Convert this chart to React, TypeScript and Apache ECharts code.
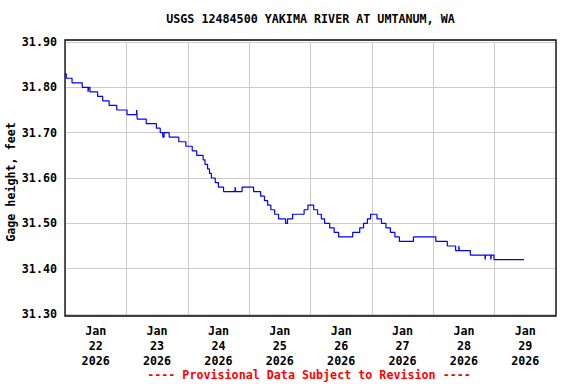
import React, { useEffect, useRef } from "react";
import * as echarts from "echarts";

const titleText = "USGS 12484500 YAKIMA RIVER AT UMTANUM, WA";
const yAxisName = "Gage height, feet";
const footerText = "---- Provisional Data Subject to Revision ----";
const startDay = 22; // Jan 22 2026 00:00 is the left edge
const dayCount = 8;

const times: string[] = [
  "01-22 00:00", "01-22 00:30", "01-22 02:45", "01-22 06:45", "01-22 09:00", "01-22 09:15",
  "01-22 09:45", "01-22 12:45", "01-22 14:45", "01-22 17:15", "01-22 20:15", "01-23 00:15",
  "01-23 04:00", "01-23 04:15", "01-23 07:45", "01-23 11:45", "01-23 13:15", "01-23 14:15",
  "01-23 14:45", "01-23 16:45", "01-23 20:30", "01-23 23:15", "01-24 01:45", "01-24 03:30",
  "01-24 06:00", "01-24 06:45", "01-24 07:45", "01-24 08:30", "01-24 09:15", "01-24 10:45",
  "01-24 12:00", "01-24 14:00", "01-24 18:30", "01-24 18:45", "01-24 21:15", "01-25 01:45",
  "01-25 04:30", "01-25 06:00", "01-25 07:15", "01-25 08:30", "01-25 10:00", "01-25 11:30",
  "01-25 14:15", "01-25 15:00", "01-25 17:00", "01-25 21:30", "01-25 23:00", "01-26 01:15",
  "01-26 02:45", "01-26 04:15", "01-26 05:30", "01-26 07:30", "01-26 09:15", "01-26 11:00",
  "01-26 16:30", "01-26 19:15", "01-26 20:45", "01-26 22:15", "01-26 23:30", "01-27 02:00",
  "01-27 03:45", "01-27 05:30", "01-27 07:15", "01-27 09:00", "01-27 10:45", "01-27 16:15",
  "01-28 01:00", "01-28 05:30", "01-28 08:45", "01-28 10:00", "01-28 10:15", "01-28 14:30",
  "01-28 20:15", "01-28 20:30", "01-28 22:30", "01-28 22:45", "01-28 23:45", "01-29 11:30",
];

const gageHeight: number[] = [
  31.83, 31.82, 31.81, 31.80, 31.79, 31.80,
  31.79, 31.78, 31.77, 31.76, 31.75, 31.74,
  31.75, 31.73, 31.72, 31.71, 31.70, 31.69,
  31.70, 31.69, 31.68, 31.67, 31.66, 31.65,
  31.64, 31.63, 31.62, 31.61, 31.60, 31.59,
  31.58, 31.57, 31.58, 31.57, 31.58, 31.57,
  31.56, 31.55, 31.54, 31.53, 31.52, 31.51,
  31.50, 31.51, 31.52, 31.53, 31.54, 31.53,
  31.52, 31.51, 31.50, 31.49, 31.48, 31.47,
  31.48, 31.49, 31.50, 31.51, 31.52, 31.51,
  31.50, 31.49, 31.48, 31.47, 31.46, 31.47,
  31.46, 31.45, 31.44, 31.45, 31.44, 31.43,
  31.42, 31.43, 31.42, 31.43, 31.42, 31.42,
];

const yMin = 31.3;
const yMax = 31.9;
const yStep = 0.1;

function toHours(t: string): number {
  const [md, hm] = t.split(" ");
  const day = parseInt(md.split("-")[1], 10);
  const [h, m] = hm.split(":").map((s) => parseInt(s, 10));
  return (day - startDay) * 24 + h + m / 60;
}

const FONT = "'DejaVu Sans Mono', monospace";
const FS = 11.7;

export default function App() {
  const ref = useRef<HTMLDivElement>(null);
  useEffect(() => {
    if (!ref.current) return;
    const chart = echarts.init(ref.current, null, { renderer: "svg" });
    const data = times.map((t, i) => [toHours(t), gageHeight[i]]);
    const L = 65, R = 20, T = 42, B = 70;
    chart.setOption({
      animation: false,
      backgroundColor: "#ffffff",
      grid: { left: L, right: R, top: T, bottom: B, containLabel: false },
      xAxis: [
        {
          type: "value",
          min: 0,
          max: dayCount * 24,
          interval: 24,
          axisLine: { show: false },
          axisTick: { show: false },
          axisLabel: { show: false },
          splitLine: { show: true, lineStyle: { color: "#cccccc", width: 1 } },
        },
        {
          type: "value",
          position: "bottom",
          min: 0,
          max: dayCount * 24,
          interval: 12,
          axisLine: { show: false },
          axisTick: { show: false },
          splitLine: { show: false },
          axisLabel: {
            show: true,
            margin: 9,
            showMinLabel: false,
            showMaxLabel: false,
            fontFamily: FONT,
            fontWeight: "bold",
            fontSize: FS,
            lineHeight: 15,
            color: "#000",
            formatter: (v: number) => {
              if (Math.round(v) % 24 !== 12) return "";
              const d = startDay + Math.floor(v / 24);
              return `Jan\n${d}\n2026`;
            },
          },
        },
      ],
      yAxis: {
        type: "value",
        min: yMin,
        max: yMax,
        interval: yStep,
        axisLine: { show: false },
        axisTick: { show: false },
        splitLine: { show: true, lineStyle: { color: "#cccccc", width: 1 } },
        axisLabel: {
          margin: 8,
          fontFamily: FONT,
          fontWeight: "bold",
          fontSize: FS,
          color: "#000",
          formatter: (v: number) => v.toFixed(2),
        },
      },
      series: [
        {
          type: "line",
          xAxisIndex: 0,
          step: "end",
          showSymbol: false,
          symbol: "none",
          data,
          lineStyle: { color: "#0000ff", width: 1.2 },
        },
      ],
      graphic: [
        {
          type: "rect",
          shape: { x: L, y: 40, width: 576 - L - R, height: 276 },
          style: { fill: "none", stroke: "#000", lineWidth: 1.3 },
          z: 100,
          silent: true,
        },
        {
          type: "text",
          x: 310.5,
          y: 19,
          style: {
            text: titleText,
            font: `bold ${FS}px ${FONT}`,
            fill: "#000",
            align: "center",
            verticalAlign: "middle",
          },
        },
        {
          type: "text",
          x: 11,
          y: 182,
          rotation: Math.PI / 2,
          style: {
            text: yAxisName,
            font: `bold ${FS}px ${FONT}`,
            fill: "#000",
            align: "center",
            verticalAlign: "middle",
          },
        },
        {
          type: "text",
          x: 309,
          y: 375,
          style: {
            text: footerText,
            font: `bold ${FS}px ${FONT}`,
            fill: "#ff0000",
            align: "center",
            verticalAlign: "middle",
          },
        },
      ],
    });
    return () => chart.dispose();
  }, []);
  return (
    <div
      ref={ref}
      style={{ position: "absolute", left: 0, top: 0, width: 576, height: 384 }}
    />
  );
}
